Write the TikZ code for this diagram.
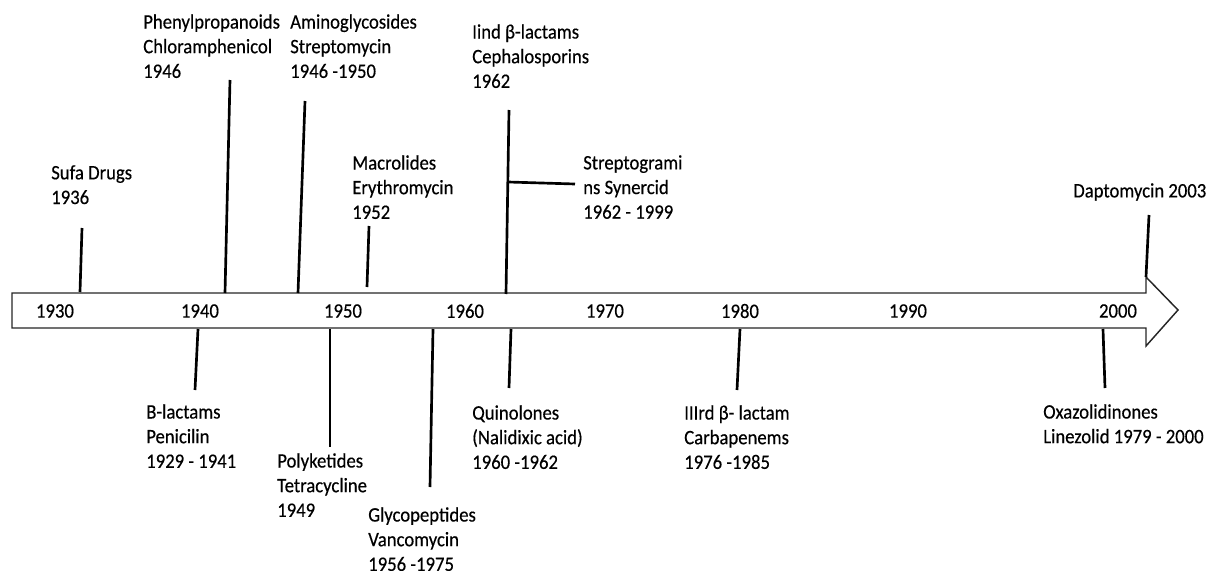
\documentclass[tikz,border=0pt]{standalone}
\usepackage{fontspec}
\setmainfont{Carlito}[FakeStretch=0.91,FakeBold=0.4]
\begin{document}
\begin{tikzpicture}[x=0.75pt,y=-0.75pt,
  lbl/.style={anchor=north west,inner sep=0pt,align=left,font=\fontsize{15.4pt}{18.5pt}\selectfont},
  yr/.style={inner sep=0pt,font=\fontsize{15.4pt}{18.5pt}\selectfont},
  tick/.style={line width=2pt,black},
  body/.style={line width=1.1pt,draw=black!85,fill=white}]
\useasboundingbox (0,0) rectangle (1207,571);
% arrow
\draw[body] (12,293) -- (1146,293) -- (1146,277) -- (1178,310) -- (1146,346) -- (1146,328) -- (12,328) -- cycle;
% years
\node[yr] (y30) at (55,311) {1930};
\node[yr] (y40) at (200,311) {1940};
\node[yr] (y50) at (343,311) {1950};
\node[yr] (y60) at (465,311) {1960};
\node[yr] (y70) at (605,311) {1970};
\node[yr] (y80) at (740,311) {1980};
\node[yr] (y90) at (908,311) {1990};
\node[yr] (y00) at (1118,311) {2000};
% top labels
\node[lbl] (sufa) at (51,165) {Sufa Drugs\\1936};
\node[lbl] (phen) at (143,14) {Phenylpropanoids\\Chloramphenicol\\1946};
\node[lbl] (amino) at (290,14) {Aminoglycosides\\Streptomycin\\1946 -1950};
\node[lbl] (macro) at (352,155) {Macrolides\\Erythromycin\\1952};
\node[lbl] (ceph) at (472,24) {Iind β-lactams\\Cephalosporins\\1962};
\node[lbl] (strep) at (583,155) {Streptogrami\\ns Synercid\\1962 - 1999};
\node[lbl] (dapto) at (1073,183) {Daptomycin 2003};
% bottom labels
\node[lbl] (blact) at (146,404) {B-lactams\\Penicilin\\1929 - 1941};
\node[lbl] (poly) at (277,453) {Polyketides\\Tetracycline\\1949};
\node[lbl] (glyco) at (368,507) {Glycopeptides\\Vancomycin\\1956 -1975};
\node[lbl] (quin) at (472,405) {Quinolones\\(Nalidixic acid)\\1960 -1962};
\node[lbl] (carb) at (684,405) {IIIrd β- lactam\\Carbapenems\\1976 -1985};
\node[lbl] (oxa) at (1043,404) {Oxazolidinones\\Linezolid 1979 - 2000};
% tick coordinates
\coordinate (a1) at (80,292); \coordinate (a2) at (82,228);
\coordinate (b1) at (225,293); \coordinate (b2) at (230,80);
\coordinate (c1) at (298,293); \coordinate (c2) at (305,101);
\coordinate (d1) at (367,287); \coordinate (d2) at (369,226);
\coordinate (e1) at (506,294); \coordinate (e2) at (509,110);
\coordinate (e3) at (508,182); \coordinate (e4) at (575,184);
\coordinate (f1) at (1146,277); \coordinate (f2) at (1149,215);
\coordinate (g1) at (198,329); \coordinate (g2) at (195,390);
\coordinate (h1) at (330,329); \coordinate (h2) at (330,447);
\coordinate (i1) at (433,329); \coordinate (i2) at (430,487);
\coordinate (j1) at (511,329); \coordinate (j2) at (509,388);
\coordinate (k1) at (740,329); \coordinate (k2) at (737,390);
\coordinate (l1) at (1103,329); \coordinate (l2) at (1105,388);
\draw[tick] (a1) -- (a2);
\draw[tick] (b1) -- (b2);
\draw[tick] (c1) -- (c2);
\draw[tick] (d1) -- (d2);
\draw[tick] (e1) -- (e2);
\draw[tick] (e3) -- (e4);
\draw[tick] (f1) -- (f2);
\draw[tick] (g1) -- (g2);
\draw[tick] (h1) -- (h2);
\draw[tick] (i1) -- (i2);
\draw[tick] (j1) -- (j2);
\draw[tick] (k1) -- (k2);
\draw[tick] (l1) -- (l2);
\end{tikzpicture}
\end{document}
